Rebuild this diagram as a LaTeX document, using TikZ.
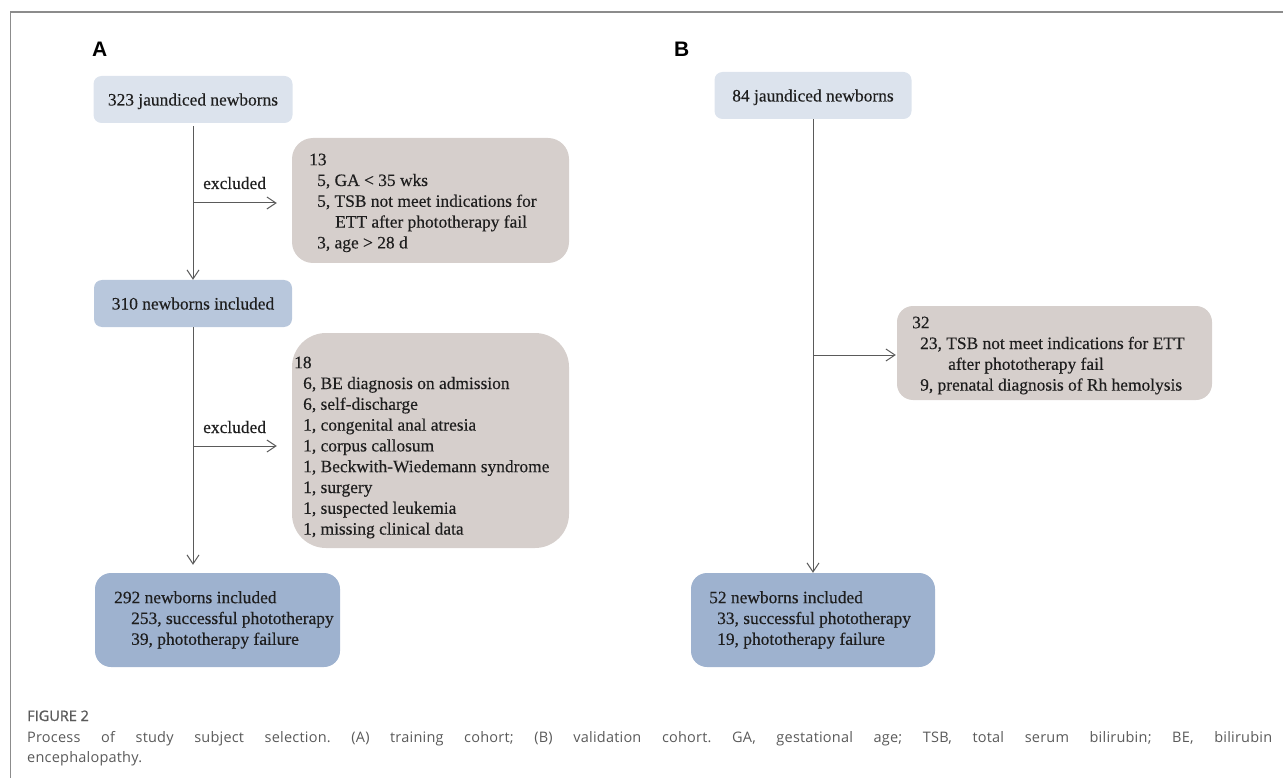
\documentclass[tikz,border=0pt]{standalone}
\usepackage{fontspec}
\setmainfont{Liberation Serif}[FakeBold=0.3]
\newfontfamily\panelfont{Liberation Sans}
\newfontfamily\capfont[LetterSpace=1.5]{Open Sans}
\newfontfamily\capsemi[FakeBold=1.2]{Open Sans}
\usetikzlibrary{arrows.meta}
\definecolor{boxlight}{HTML}{DCE3ED}
\definecolor{boxmid}{HTML}{B8C7DC}
\definecolor{boxdark}{HTML}{9EB2CF}
\definecolor{boxexcl}{HTML}{D6CFCC}
\definecolor{linegray}{HTML}{5A5A5A}
\definecolor{framegray}{HTML}{8C8C8C}
\definecolor{captext}{HTML}{5A5A5A}
\definecolor{txtcol}{HTML}{1E1E1E}
\newcommand\bxfont{\fontsize{17.4pt}{20.8pt}\selectfont}
\begin{document}
\frenchspacing
\begin{tikzpicture}[x=1pt,y=-1pt,
  boxshape/.style={draw=none, inner sep=0pt, font=\bxfont, text=txtcol},
  onebox/.style={boxshape, text height=12pt, text depth=0pt},
  bodytxt/.style={inner sep=0pt, font=\bxfont, text=txtcol, align=left},
  conn/.style={draw=linegray, line width=1pt, -{Straight Barb[length=9pt,width=12pt,line width=1pt]}},
  panellab/.style={inner sep=0pt, font=\panelfont\bfseries\fontsize{21pt}{24pt}\selectfont, text=black},
  captxt/.style={inner sep=0pt, font=\capfont\fontsize{14.5pt}{17pt}\selectfont, text=captext}
]
\useasboundingbox (0,0) rectangle (1283,778);
% frame
\draw[framegray, line width=1.5pt] (1283,12) -- (10.5,12) -- (10.5,778);

% panel labels
\node[panellab, anchor=base west] (labA) at (92,57) {A};
\node[panellab, anchor=base west] (labB) at (674,57) {B};

% ---------- Panel A ----------
\node[onebox, fill=boxlight, rounded corners=8pt, minimum width=199pt, minimum height=47pt] (a1) at (193,99.5) {323 jaundiced newborns};
\node[onebox, fill=boxmid, rounded corners=8pt, minimum width=198pt, minimum height=47pt] (a2) at (193,303.5) {310 newborns included};
\node[boxshape, fill=boxdark, rounded corners=16pt, minimum width=245pt, minimum height=94pt] (a3) at (217.5,620) {};
\node[boxshape, fill=boxexcl, rounded corners=21pt, minimum width=277pt, minimum height=125pt] (exA1) at (430.5,200.5) {};
\node[boxshape, fill=boxexcl, rounded corners=34pt, minimum width=277pt, minimum height=215pt] (exA2) at (430.5,440.5) {};

\node[bodytxt, anchor=north west] (exA1t) at (309,150.44) {\strut 13\\
\hspace*{8pt}5, GA < 35 wks\\
\hspace*{8pt}5, TSB not meet indications for\\
\hspace*{26pt}ETT after phototherapy fail\\
\hspace*{8pt}3, age > 28 d};

\node[bodytxt, anchor=north west] (exA2t) at (294,353.44) {\strut 18\\
\hspace*{9pt}6, BE diagnosis on admission\\
\hspace*{9pt}6, self-discharge\\
\hspace*{9pt}1, congenital anal atresia\\
\hspace*{9pt}1, corpus callosum\\
\hspace*{9pt}1, Beckwith-Wiedemann syndrome\\
\hspace*{9pt}1, surgery\\
\hspace*{9pt}1, suspected leukemia\\
\hspace*{9pt}1, missing clinical data};

\node[bodytxt, anchor=north west] (a3t) at (114,588.44) {\strut 292 newborns included\\
\hspace*{17pt}253, successful phototherapy\\
\hspace*{17pt}39, phototherapy failure};

\coordinate (j1) at (193,203);
\coordinate (j2) at (193,446);
\draw[conn, shorten <=3pt] (a1) -- (a2);
\draw[conn, shorten >=15pt] (j1) -- (j1 -| exA1.west);
\draw[conn, shorten >=8pt] (a2.south) -- (a2.south |- a3.north);
\draw[conn, shorten >=15pt] (j2) -- (j2 -| exA2.west);
\node[bodytxt, anchor=base west] (exc1) at (203,189) {excluded};
\node[bodytxt, anchor=base west] (exc2) at (203,433) {excluded};

% ---------- Panel B ----------
\node[onebox, fill=boxlight, rounded corners=8pt, minimum width=197pt, minimum height=47pt] (b1) at (813,95.5) {84 jaundiced newborns};
\node[boxshape, fill=boxexcl, rounded corners=16pt, minimum width=315pt, minimum height=94pt] (exB) at (1054.5,353) {};
\node[boxshape, fill=boxdark, rounded corners=16pt, minimum width=244pt, minimum height=94pt] (b2) at (813,620) {};

\node[bodytxt, anchor=north west] (exBt) at (912,313.44) {\strut 32\\
\hspace*{8pt}23, TSB not meet indications for ETT\\
\hspace*{36pt}after phototherapy fail\\
\hspace*{8pt}9, prenatal diagnosis of Rh hemolysis};

\node[bodytxt, anchor=north west] (b2t) at (709,588.44) {\strut 52 newborns included\\
\hspace*{8pt}33, successful phototherapy\\
\hspace*{8pt}19, phototherapy failure};

\coordinate (j3) at (813,355);
\draw[conn] (b1) -- (b2);
\draw[conn, shorten >=1pt] (j3) -- (j3 -| exB.west);

% ---------- Caption ----------
\node[captxt, font=\capsemi\fontsize{14.5pt}{17pt}\selectfont, anchor=base west] (figlab) at (27,721) {FIGURE 2};
\node[captxt, anchor=base west] (cap1) at (27,742) {\makebox[1245pt][s]{Process of study subject selection. (A) training cohort; (B) validation cohort. GA, gestational age; TSB, total serum bilirubin; BE, bilirubin}};
\node[captxt, anchor=base west] (cap2) at (27,762) {encephalopathy.};
\end{tikzpicture}
\end{document}
